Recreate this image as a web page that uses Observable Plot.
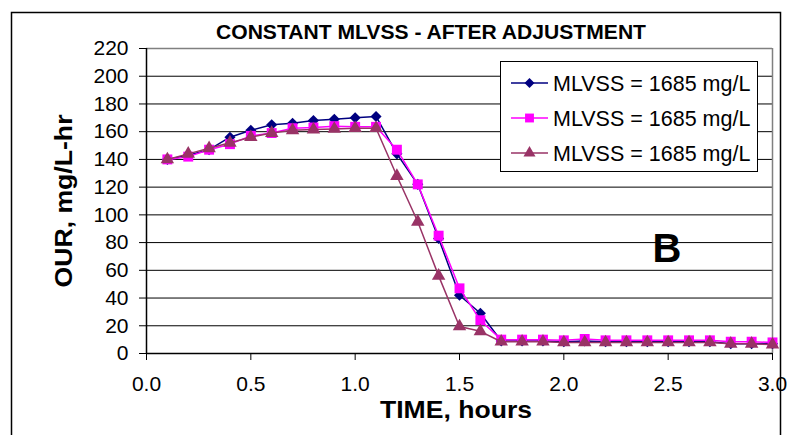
<!DOCTYPE html>
<html><head><meta charset="utf-8">
<script src="https://cdn.jsdelivr.net/npm/d3@7"></script>
<script src="https://cdn.jsdelivr.net/npm/@observablehq/plot@0.6"></script>
<style>body{margin:0;background:#fff} #chart svg{display:block}</style>
</head><body><div id="chart"></div>
<script>
// ---- data ----
const times = [0.1,0.2,0.3,0.4,0.5,0.6,0.7,0.8,0.9,1.0,1.1,1.2,1.3,1.4,1.5,1.6,1.7,1.8,1.9,2.0,2.1,2.2,2.3,2.4,2.5,2.6,2.7,2.8,2.9,3.0];
const seriesNames = ["MLVSS = 1685 mg/L","MLVSS = 1685 mg/L","MLVSS = 1685 mg/L"];
const ourDiamond = [140,143,147,156,161,165,166,168,169,170,171,144,122,83,42,29,9,9,9,8.5,9,8.5,8.5,8.5,8.5,8.5,8.5,7,7,7];
const ourSquare  = [140,142,147,151,157,159,162.5,163,164,163.5,163.5,147,122,85,47,24,10,10,10,9.5,10.5,9.5,9.5,9.5,9.5,9.5,9.5,8.5,8.5,8];
const ourTriangle= [140,144,148,152,156,159,161,161.5,162,162.5,162.5,128,95,56,19.5,16,8.5,8.5,8.5,8,8,8,8,8,8,8,8,7,7,6.5];
const yTicks = [0,20,40,60,80,100,120,140,160,180,200,220];
const xTicks = [0,0.5,1.0,1.5,2.0,2.5,3.0];
const titleText = "CONSTANT MLVSS - AFTER ADJUSTMENT";
const xLabel = "TIME, hours";
const yLabel = "OUR, mg/L-hr";
const panelLabel = "B";

// ---- styles ----
const colors = ["#000080","#FF00FF","#993366"];
const symbols = ["diamond2","square","triangle"];
const radii = [5.0,5.6,5.0];
const font = "Arial, 'Liberation Sans', sans-serif";

const W = 791, H = 435, mL = 146, mR = 19, mT = 48, mB = 82;

const seriesData = [ourDiamond, ourSquare, ourTriangle].map(vals => times.map((t,i) => ({t, v: vals[i]})));

const marks = [
  Plot.ruleY(yTicks.filter(v => v > 0 && v < 220), {stroke:"#000", strokeWidth:1}),
  Plot.ruleY([220], {stroke:"#808080", strokeWidth:1.5}),
  Plot.ruleX([3], {stroke:"#808080", strokeWidth:1.5}),
  Plot.axisY(yTicks, {tickSize:7, tickPadding:11, tickFormat:d => String(d), label:null, fontSize:21}),
  Plot.axisX(xTicks, {tickSize:7, tickPadding:16, tickFormat:d => d.toFixed(1), label:null, fontSize:21}),
  Plot.ruleY([0], {stroke:"#000", strokeWidth:1.5}),
  Plot.ruleX([0], {stroke:"#000", strokeWidth:1.5})
];
seriesData.forEach((rows, k) => {
  marks.push(Plot.line(rows, {x:"t", y:"v", stroke:colors[k], strokeWidth:1.5}));
  marks.push(Plot.dot(rows, {x:"t", y:"v", symbol:symbols[k], r:radii[k], fill:colors[k], stroke:"none"}));
});

const svgEl = Plot.plot({
  width: W, height: H,
  marginLeft: mL, marginRight: mR, marginTop: mT, marginBottom: mB,
  style: {fontFamily: font, fontSize: "21px", color: "#000", background: "#fff", overflow: "visible"},
  x: {domain: [0, 3]},
  y: {domain: [0, 220]},
  marks
});
document.getElementById("chart").appendChild(svgEl);

const svg = d3.select(svgEl);
// outer border
svg.append("rect").attr("x", 11.5).attr("y", 12.5).attr("width", 769).attr("height", 440)
  .attr("fill", "none").attr("stroke", "#000").attr("stroke-width", 1.5);
// title
svg.append("text").attr("x", 431).attr("y", 39).attr("text-anchor", "middle")
  .attr("font-family", font).attr("font-weight", "bold").attr("font-size", 21)
  .attr("textLength", 430).attr("lengthAdjust", "spacingAndGlyphs").text(titleText);
// x label
svg.append("text").attr("x", 456).attr("y", 418).attr("text-anchor", "middle")
  .attr("font-family", font).attr("font-weight", "bold").attr("font-size", 24)
  .attr("textLength", 152).attr("lengthAdjust", "spacingAndGlyphs").text(xLabel);
// y label
svg.append("text").attr("transform", "translate(72,201) rotate(-90)").attr("text-anchor", "middle")
  .attr("font-family", font).attr("font-weight", "bold").attr("font-size", 24)
  .attr("textLength", 173).attr("lengthAdjust", "spacingAndGlyphs").text(yLabel);
// panel label
svg.append("text").attr("x", 667).attr("y", 262).attr("text-anchor", "middle")
  .attr("font-family", font).attr("font-weight", "bold").attr("font-size", 40).text(panelLabel);
// legend
const lg = svg.append("g");
lg.append("rect").attr("x", 500.5).attr("y", 61.5).attr("width", 257).attr("height", 110)
  .attr("fill", "#fff").attr("stroke", "#000").attr("stroke-width", 1);
const ly = [83, 118, 153];
seriesNames.forEach((name, k) => {
  lg.append("line").attr("x1", 511).attr("x2", 548).attr("y1", ly[k]).attr("y2", ly[k])
    .attr("stroke", colors[k]).attr("stroke-width", 1.5);
  const sym = {diamond2: d3.symbolDiamond2, square: d3.symbolSquare, triangle: d3.symbolTriangle}[symbols[k]];
  lg.append("path").attr("transform", `translate(529.5,${ly[k]})`)
    .attr("d", d3.symbol(sym, Math.PI * radii[k] * radii[k] * 0.8)()).attr("fill", colors[k]);
  lg.append("text").attr("x", 553).attr("y", ly[k]).attr("dy", "0.36em").attr("text-anchor", "start")
    .attr("font-family", font).attr("font-size", 21.5).text(name);
});
</script>
</body></html>
